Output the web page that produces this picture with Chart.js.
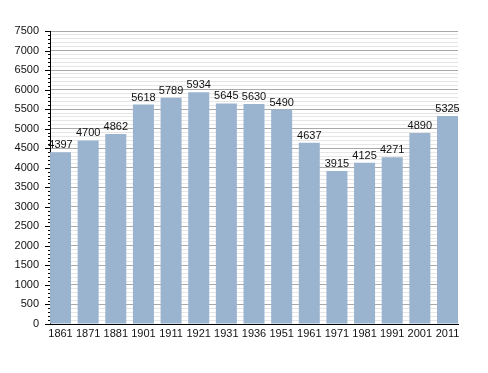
<!DOCTYPE html>
<html>
<head>
<meta charset="utf-8">
<script src="https://cdn.jsdelivr.net/npm/chart.js@4/dist/chart.umd.min.js"></script>
<style>
  html, body { margin: 0; padding: 0; background: #fff; }
  #wrap { width: 488px; height: 373px; }
</style>
</head>
<body>
<div id="wrap"><canvas id="popChart" width="488" height="373"></canvas></div>
<script>
// population by census year
var years = ['1861', '1871', '1881', '1901', '1911', '1921', '1931', '1936', '1951', '1961', '1971', '1981', '1991', '2001', '2011'];
var population = [4397, 4700, 4862, 5618, 5789, 5934, 5645, 5630, 5490, 4637, 3915, 4125, 4271, 4890, 5325];
var yMax = 7500;
var yMajorStep = 500;
var yMinorStep = 100;

var font = { family: '"Liberation Sans", Arial, sans-serif', size: 11 };

// value labels above each bar + y axis tick marks
var extrasPlugin = {
  id: 'extras',
  afterDatasetsDraw: function (chart) {
    var ctx = chart.ctx;
    var meta = chart.getDatasetMeta(0);
    ctx.save();
    ctx.font = font.size + 'px ' + font.family;
    ctx.fillStyle = '#111';
    ctx.textAlign = 'center';
    ctx.textBaseline = 'alphabetic';
    meta.data.forEach(function (bar, i) {
      ctx.fillText(String(population[i]), bar.x, bar.y - 4);
    });

    var y = chart.scales.y;
    ctx.strokeStyle = '#000';
    ctx.lineWidth = 1;
    ctx.beginPath();
    for (var v = 0; v <= yMax; v += yMinorStep) {
      var py = Math.round(y.getPixelForValue(v)) + 0.5;
      var len = (v % yMajorStep === 0) ? 5 : 2;
      ctx.moveTo(y.right - len, py);
      ctx.lineTo(y.right, py);
    }
    ctx.stroke();
    ctx.restore();
  }
};

var ctx = document.getElementById('popChart').getContext('2d');
var popChart = new Chart(ctx, {
  type: 'bar',
  data: {
    datasets: [{
      data: population.map(function (v, i) { return { x: i, y: v }; }),
      backgroundColor: '#9ab3cf',
      borderWidth: 0,
      categoryPercentage: 1,
      barPercentage: 0.76
    }]
  },
  options: {
    responsive: false,
    animation: false,
    layout: { padding: { left: 0, right: 30, top: 31, bottom: 29 } },
    plugins: {
      legend: { display: false },
      tooltip: { enabled: false }
    },
    scales: {
      x: {
        type: 'linear',
        min: -0.38,
        max: 14.38,
        offset: false,
        grid: { display: false, drawTicks: false },
        border: { color: '#000', width: 1 },
        ticks: {
          stepSize: 1,
          includeBounds: false,
          autoSkip: false,
          maxRotation: 0,
          padding: 3,
          color: '#111',
          font: font,
          callback: function (value) {
            return years[value] !== undefined ? years[value] : '';
          }
        },
        afterFit: function (scale) { scale.height = 20; }
      },
      y: {
        min: 0,
        max: yMax,
        grid: {
          drawTicks: false,
          color: function (c) {
            return (c.tick && c.tick.value % yMajorStep === 0) ? '#a9a9a9' : '#e6e6e6';
          }
        },
        border: { color: '#000', width: 1 },
        ticks: {
          stepSize: yMinorStep,
          maxTicksLimit: 100,
          autoSkip: false,
          padding: 11,
          color: '#111',
          font: font,
          callback: function (value) {
            return value % yMajorStep === 0 ? String(value) : '';
          }
        },
        afterFit: function (scale) { scale.width = 50; }
      }
    }
  },
  plugins: [extrasPlugin]
});
</script>
</body>
</html>
